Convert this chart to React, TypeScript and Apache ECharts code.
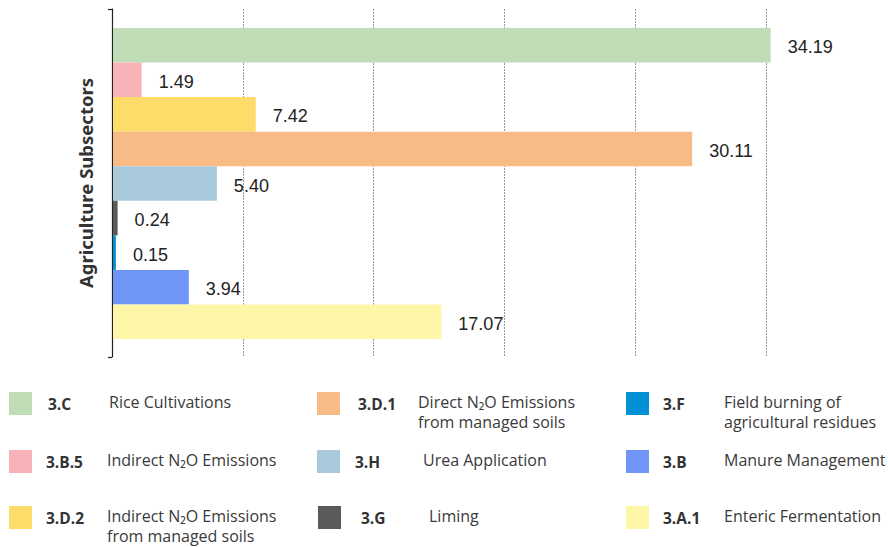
import React, { useEffect, useRef } from "react";
import * as echarts from "echarts";

const categories = ["3.C", "3.B.5", "3.D.2", "3.D.1", "3.H", "3.G", "3.F", "3.B", "3.A.1"];
const values = [34.19, 1.49, 7.42, 30.11, 5.4, 0.24, 0.15, 3.94, 17.07];
const colors = ["#bfdcb7", "#f7b3b8", "#fddc6a", "#f9bb86", "#a8cadb", "#5a5b58", "#0090d6", "#6f95f7", "#fef6a7"];
const descriptions = [
  "Rice Cultivations",
  "Indirect N₂O Emissions",
  "Indirect N₂O Emissions\nfrom managed soils",
  "Direct N₂O Emissions\nfrom managed soils",
  "Urea Application",
  "Liming",
  "Field burning of\nagricultural residues",
  "Manure Management",
  "Enteric Fermentation",
];
const axisTitle = "Agriculture Subsectors";

export default function App() {
  const ref = useRef<HTMLDivElement>(null);
  useEffect(() => {
    if (!ref.current) return;
    const chart = echarts.init(ref.current, null, { renderer: "svg" });
    // layout of the custom legend (column-major, 3 rows per column)
    const swatchX = [9, 9, 9, 317, 317, 318, 626, 626, 626];
    const codeX = [48, 46, 46, 358, 355, 361, 663, 663, 663];
    const descX = [109, 107, 107, 418, 423, 429, 724, 724, 724];
    const rowY = [392, 450, 506];
    const legend: any[] = [];
    categories.forEach((c, i) => {
      const row = i % 3;
      legend.push({
        type: "rect",
        shape: { x: swatchX[i], y: rowY[row], width: 23, height: 23 },
        style: { fill: colors[i] },
      });
      legend.push({
        type: "text",
        x: codeX[i],
        y: rowY[row] + 11.5,
        style: {
          text: c,
          fill: "#333",
          font: "bold 15.5px 'Open Sans'",
          verticalAlign: "middle",
        },
      });
      legend.push({
        type: "text",
        x: descX[i],
        y: rowY[row] - 0.5,
        style: {
          text: descriptions[i],
          fill: "#3a3a3a",
          font: "16px 'Open Sans'",
          lineHeight: 20,
          verticalAlign: "top",
        },
      });
    });
    chart.setOption({
      animation: false,
      grid: [
        { left: 112, right: 123, top: 9, bottom: 190 },
        { left: 113, right: 122, top: 28, bottom: 208 },
      ],
      xAxis: [
        {
          gridIndex: 0,
          type: "value",
          min: 0,
          max: 34,
          interval: 6.8,
          axisLine: { show: false },
          axisTick: { show: false },
          axisLabel: { show: false },
          splitLine: { show: true, lineStyle: { color: "#999", type: [2, 1], width: 1 } },
        },
        {
          gridIndex: 1,
          type: "value",
          min: 0,
          max: 34,
          show: false,
          splitLine: { show: false },
        },
      ],
      yAxis: [
        {
          gridIndex: 0,
          type: "value",
          min: 0,
          max: 1,
          interval: 1,
          name: axisTitle,
          nameLocation: "middle",
          nameRotate: 90,
          nameGap: 17,
          nameTextStyle: { fontFamily: "'Noto Sans'", fontWeight: "bold", fontSize: 18.5, color: "#333" },
          axisLine: { show: true, lineStyle: { color: "#222", width: 1.2 } },
          axisTick: { show: true, length: 4, lineStyle: { color: "#222", width: 1.2 } },
          axisLabel: { show: false },
          splitLine: { show: false },
        },
        {
          gridIndex: 1,
          type: "category",
          data: categories,
          inverse: true,
          show: false,
        },
      ],
      series: [
        {
          type: "bar",
          xAxisIndex: 1,
          yAxisIndex: 1,
          clip: false,
          barCategoryGap: "0%",
          data: values.map((v, i) => ({ value: v, itemStyle: { color: colors[i] } })),
          label: {
            show: true,
            position: "right",
            distance: 17,
            offset: [0, 2],
            formatter: (p: any) => Number(p.value).toFixed(2),
            fontFamily: "'Liberation Sans', Arial",
            fontSize: 18,
            color: "#222",
          },
        },
      ],
      graphic: legend,
    });
    return () => chart.dispose();
  }, []);
  return <div ref={ref} style={{ width: 889, height: 547, position: "absolute", left: 0, top: 0 }} />;
}
